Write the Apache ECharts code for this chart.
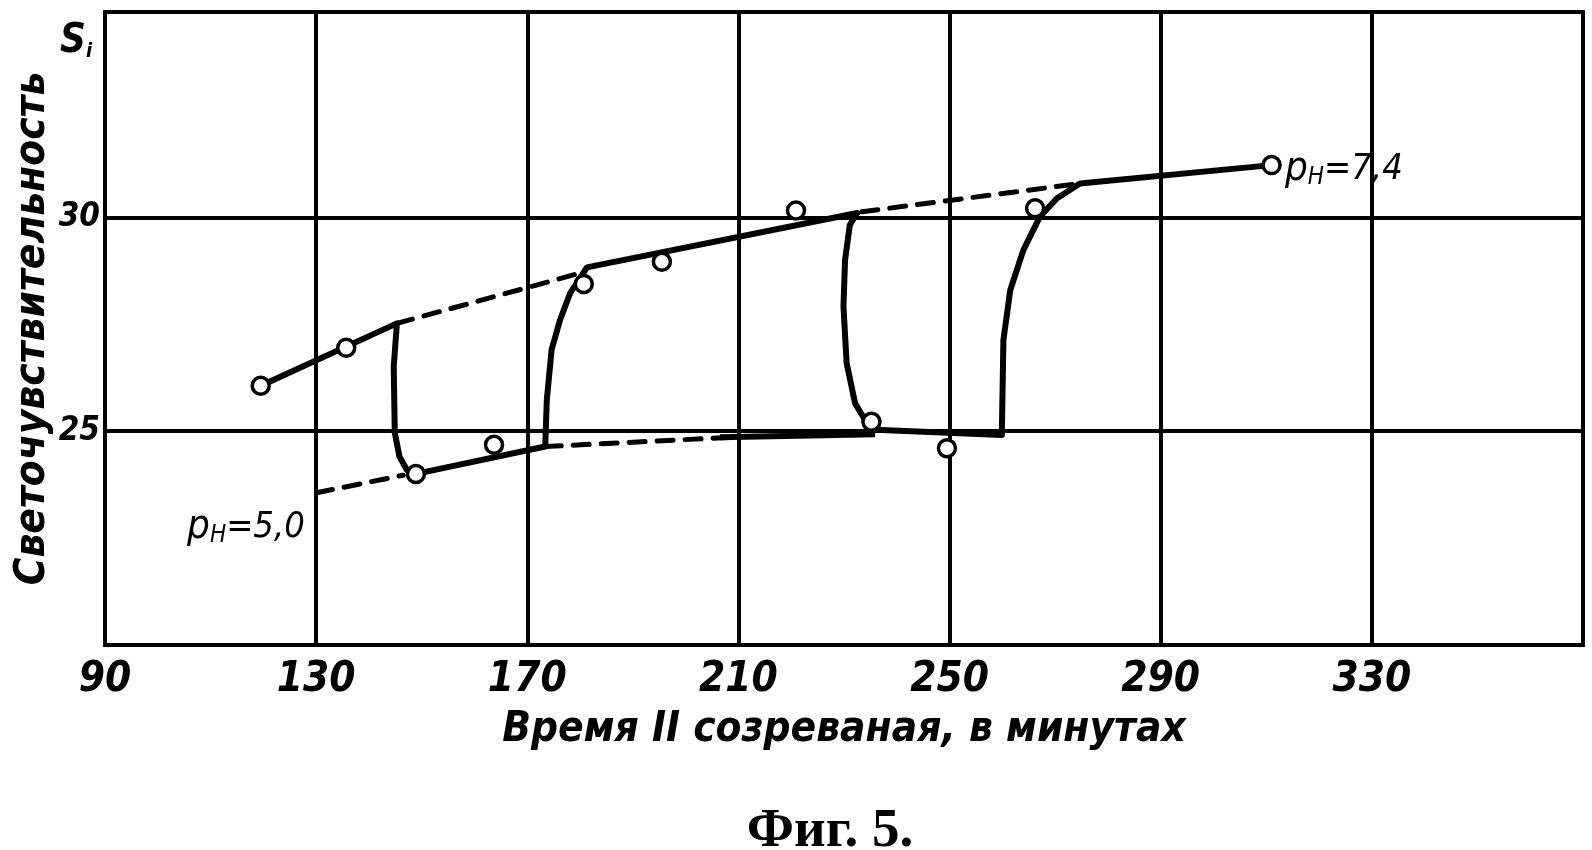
<!DOCTYPE html>
<html>
<head>
<meta charset="utf-8">
<title>Фиг. 5</title>
<script src="https://cdn.jsdelivr.net/npm/echarts@6/dist/echarts.min.js"></script>
<style>
  html, body { margin: 0; padding: 0; background: #fff; }
  #chart { width: 1592px; height: 850px; }
</style>
</head>
<body>
<div id="chart"></div>
<script>
// measured points (open circles)
const pointX = [119.5, 135.7, 148.9, 163.7, 180.7, 195.5, 220.9, 235.2, 249.5, 266.2, 311.0]
const pointY = [26.06, 26.95, 24.0, 24.68, 28.44, 28.96, 30.16, 25.22, 24.6, 30.21, 31.22]

// the thick solid curve
const curveX = [119.5, 145.3, 144.7, 144.9, 145.8, 147.2, 148.9, 173.4, 173.7, 174.6, 176.2, 178.1, 181.3,
  232.5, 231.1, 230.2, 229.9, 230.5, 232.1, 234.0, 235.9, 259.9, 260.2, 261.5, 264.0, 267.1, 270.3, 274.7, 311.0]
const curveY = [26.06, 27.52, 26.51, 24.96, 24.40, 24.09, 24.0, 24.64, 25.73, 26.90, 27.60, 28.22, 28.83,
  30.10, 29.82, 29.0, 27.91, 26.59, 25.65, 25.26, 25.03, 24.91, 27.13, 28.30, 29.24, 30.01, 30.44, 30.79, 31.22]

// dashed extensions (pH 7,4 above, pH 5,0 below)
const upperDashA = [[145.3, 27.52], [180.7, 28.72]]
const upperDashB = [[233.4, 30.13], [274.7, 30.79]]
const lowerDashA = [[130.1, 23.56], [146.5, 23.97]]
const lowerDashB = [[173.4, 24.64], [209.4, 24.86]]
const lowerSolid = [[206.5, 24.86], [235.9, 24.93]]

// axes
const xTicks = [90, 130, 170, 210, 250, 290, 330]
const yTicks = [25, 30]

const font = "'DejaVu Sans Condensed', 'DejaVu Sans', sans-serif"

const chart = echarts.init(document.getElementById('chart'))

const dashed = (name, data) => ({
  name,
  type: 'line',
  data,
  symbol: 'none',
  silent: true,
  lineStyle: { color: '#000', width: 5, type: [16, 12], cap: 'round' },
  z: 3
})

chart.setOption({
  animation: false,
  backgroundColor: '#fff',
  grid: {
    left: 105,
    right: 9,
    top: 12,
    bottom: 205,
    outerBoundsMode: 'none',
    containLabel: false,
    show: true,
    borderColor: '#000',
    borderWidth: 4
  },
  xAxis: {
    type: 'value',
    min: 90,
    max: 370,
    interval: 40,
    name: 'Время II созреваная, в минутах',
    nameLocation: 'middle',
    nameGap: 64,
    nameTextStyle: { color: '#000', fontSize: 42, fontStyle: 'italic', fontWeight: 'bold', fontFamily: font },
    axisLine: { show: true, lineStyle: { color: '#000', width: 4 } },
    axisTick: { show: false },
    splitLine: { show: true, lineStyle: { color: '#000', width: 4 } },
    axisLabel: {
      color: '#000',
      fontSize: 42,
      fontStyle: 'italic',
      fontWeight: 'bold',
      fontFamily: font,
      margin: 14,
      formatter: v => (xTicks.includes(v) ? String(v) : '')
    }
  },
  yAxis: {
    type: 'value',
    min: 20,
    max: 34.8,
    interval: 5,
    name: 'Светочувствительность',
    nameLocation: 'middle',
    nameRotate: 90,
    nameGap: 51,
    nameMoveOverlap: false,
    nameTextStyle: { color: '#000', fontSize: 42, fontStyle: 'italic', fontWeight: 'bold', fontFamily: font },
    axisLine: { show: true, lineStyle: { color: '#000', width: 4 } },
    axisTick: { show: false },
    splitLine: { show: true, lineStyle: { color: '#000', width: 4 } },
    axisLabel: {
      color: '#000',
      fontSize: 33,
      fontStyle: 'italic',
      fontWeight: 'bold',
      fontFamily: font,
      margin: 5,
      formatter: v => (yTicks.includes(v) ? String(v) : '')
    }
  },
  graphic: [
    {
      type: 'text',
      x: 60,
      y: 22,
      style: {
        text: '{s|S}{i|i}',
        rich: {
          s: { fontSize: 40, fontStyle: 'italic', fontWeight: 'bold', fontFamily: font, fill: '#000' },
          i: { fontSize: 20, fontStyle: 'italic', fontWeight: 'bold', fontFamily: font, fill: '#000', verticalAlign: 'bottom', lineHeight: 22 }
        }
      }
    },
    {
      type: 'text',
      x: 830,
      y: 832,
      style: {
        text: 'Фиг. 5.',
        font: 'bold 55px "Liberation Serif", "DejaVu Serif", serif',
        fill: '#000',
        align: 'center',
        verticalAlign: 'middle'
      }
    }
  ],
  series: [
    dashed('pH 7,4 a', upperDashA),
    dashed('pH 7,4 b', upperDashB),
    dashed('pH 5,0 a', lowerDashA),
    dashed('pH 5,0 b', lowerDashB),
    {
      name: 'pH 5,0 line',
      type: 'line',
      data: lowerSolid,
      symbol: 'none',
      lineStyle: { color: '#000', width: 6 },
      z: 3
    },
    {
      name: 'curve',
      type: 'line',
      data: curveX.map((x, i) => [x, curveY[i]]),
      symbol: 'none',
      lineStyle: { color: '#000', width: 6, join: 'round', cap: 'round' },
      z: 4
    },
    {
      name: 'points',
      type: 'scatter',
      data: pointX.map((x, i) => [x, pointY[i]]),
      symbol: 'circle',
      symbolSize: 17,
      itemStyle: { color: '#fff', borderColor: '#000', borderWidth: 3.5, opacity: 1 },
      z: 5
    },
    {
      name: 'labels',
      type: 'scatter',
      symbolSize: 0,
      silent: true,
      z: 6,
      itemStyle: { opacity: 1 },
      label: {
        show: true,
        position: 'inside',
        color: '#000',
        opacity: 1,
        rich: {
          p: { fontSize: 40, lineHeight: 40, fontStyle: 'italic', fontFamily: font, color: '#000' },
          h: { fontSize: 24, lineHeight: 24, fontStyle: 'italic', fontFamily: font, color: '#000', verticalAlign: 'bottom' },
          e: { fontSize: 36, lineHeight: 40, fontStyle: 'italic', fontFamily: font, color: '#000' }
        }
      },
      data: [
        { value: [324.7, 31.12], label: { formatter: '{p|p}{h|H}{e|=7,4}' } },
        { value: [116.7, 22.74], label: { formatter: '{p|p}{h|H}{e|=5,0}' } }
      ]
    }
  ]
})
</script>
</body>
</html>
